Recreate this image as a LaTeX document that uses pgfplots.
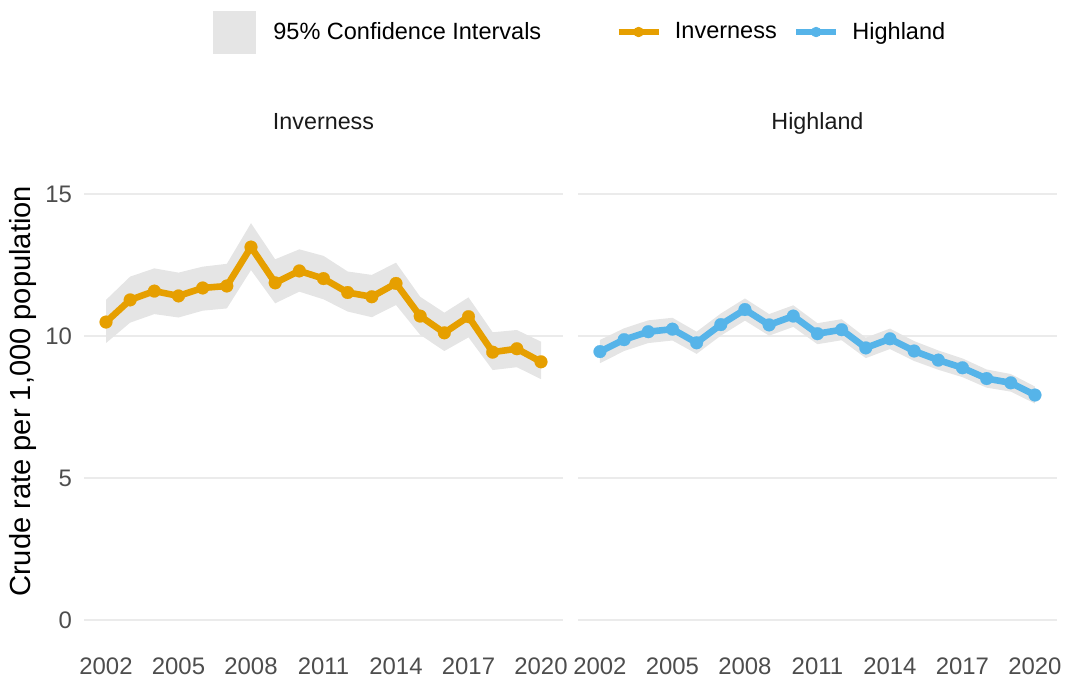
\documentclass[border=0pt]{standalone}
\usepackage{fontspec}
\setmainfont{Liberation Sans}
\usepackage{pgfplots}
\pgfplotsset{compat=1.18}
\usepackage{pgfplotstable}
\usepgfplotslibrary{fillbetween}

\definecolor{inv}{HTML}{E69F00}
\definecolor{hig}{HTML}{56B4E9}
\definecolor{band}{HTML}{E5E5E5}
\definecolor{gridc}{HTML}{EBEBEB}
\definecolor{tickc}{HTML}{4D4D4D}
\definecolor{stripc}{HTML}{1A1A1A}

% year, crude rate, lower and upper 95% CI
\pgfplotstableread{
year rate lo hi
2002 10.49 9.75 11.27
2003 11.27 10.47 12.09
2004 11.58 10.77 12.38
2005 11.41 10.65 12.23
2006 11.69 10.89 12.44
2007 11.76 10.97 12.54
2008 13.13 12.32 13.97
2009 11.87 11.15 12.70
2010 12.29 11.56 13.05
2011 12.02 11.29 12.82
2012 11.53 10.86 12.27
2013 11.38 10.66 12.15
2014 11.85 11.09 12.58
2015 10.70 10.04 11.38
2016 10.11 9.47 10.82
2017 10.68 9.95 11.36
2018 9.43 8.80 10.13
2019 9.55 8.90 10.21
2020 9.09 8.48 9.80
}\inverness

\pgfplotstableread{
year rate lo hi
2002 9.45 9.04 9.86
2003 9.87 9.47 10.27
2004 10.15 9.75 10.55
2005 10.24 9.84 10.64
2006 9.76 9.37 10.15
2007 10.40 10.01 10.79
2008 10.93 10.54 11.32
2009 10.39 10.01 10.77
2010 10.70 10.32 11.08
2011 10.08 9.71 10.45
2012 10.22 9.85 10.59
2013 9.58 9.22 9.94
2014 9.90 9.54 10.26
2015 9.47 9.12 9.82
2016 9.15 8.81 9.49
2017 8.88 8.55 9.21
2018 8.50 8.18 8.82
2019 8.35 8.04 8.66
2020 7.92 7.62 8.22
}\highland

\pgfplotsset{
  panel/.style={
    scale only axis, width=239.25bp, height=251.35bp,
    anchor=south west,
    xmin=2001.1, xmax=2020.9, ymin=-0.8, ymax=16.9,
    xtick={2002,2005,...,2020}, ytick={0,5,10,15},
    axis line style={draw=none}, tick style={draw=none},
    xtick pos=bottom, ytick pos=left,
    ymajorgrids, grid style={gridc, line width=1bp},
    /pgf/number format/assume math mode=true,
    /pgf/number format/1000 sep={},
    tick label style={font=\fontsize{12}{14}\selectfont, text=tickc, inner sep=0pt},
    xticklabel style={yshift=-7.2bp},
    yticklabel style={xshift=-6bp},
    title style={at={(0.5,1)}, anchor=base, yshift=-0.5bp,
      font=\fontsize{11.7}{14}\selectfont, text=stripc, inner sep=0pt},
    clip=false,
  },
  series/.style={color=#1, line width=3.3bp, line join=round,
    mark=*, mark size=3.2bp, mark options={solid, line width=0.1bp}},
  band/.style={fill=band, draw=none},
  keyline/.style={legend image code/.code={
    \draw[#1, line width=3.3bp] (0bp,0bp) -- (20bp,0bp);
    \fill[#1] (10bp,0bp) circle (2.4bp);}},
}

\begin{document}
\begin{tikzpicture}
\begin{axis}[panel, at={(42.125bp,17.65bp)},
  title={Inverness},
  ylabel={Crude rate per 1,000 population},
  ylabel style={at={(axis description cs:0,0.5)}, anchor=center,
    yshift=30.4bp, font=\fontsize{14.6}{16}\selectfont, text=black, inner sep=0pt},
  legend columns=3,
  legend cell align=left,
  legend style={at={(0.269,1.2148)}, anchor=west, draw=none, fill=none,
    inner sep=0pt, font=\fontsize{11.8}{14}\selectfont,
    nodes={inner sep=0pt, text=black},
    /tikz/column 1/.style={column sep=8.5bp},
    /tikz/column 2/.style={column sep=37bp},
    /tikz/column 3/.style={column sep=6.5bp},
    /tikz/column 4/.style={column sep=8bp},
    /tikz/column 5/.style={column sep=6.5bp}},
]
\addplot[draw=none, name path=ih, forget plot] table[x=year, y=hi] {\inverness};
\addplot[draw=none, name path=il, forget plot] table[x=year, y=lo] {\inverness};
\addplot[band, legend image code/.code={\fill[band] (0bp,-10.75bp) rectangle (21.5bp,10.75bp);}]
  fill between[of=ih and il];
\addlegendentry{95\% Confidence Intervals}
\addplot[series=inv, forget plot] table[x=year, y=rate] {\inverness};
\addlegendimage{keyline=inv}
\addlegendentry{Inverness}
\addlegendimage{keyline=hig}
\addlegendentry{Highland}
\end{axis}

\begin{axis}[panel, at={(289.1bp,17.65bp)},
  title={Highland},
  yticklabels={},
]
\addplot[draw=none, name path=hh, forget plot] table[x=year, y=hi] {\highland};
\addplot[draw=none, name path=hl, forget plot] table[x=year, y=lo] {\highland};
\addplot[band, forget plot] fill between[of=hh and hl];
\addplot[series=hig] table[x=year, y=rate] {\highland};
\end{axis}
\path (0,0) rectangle (532.5bp,339bp);
\end{tikzpicture}
\end{document}
